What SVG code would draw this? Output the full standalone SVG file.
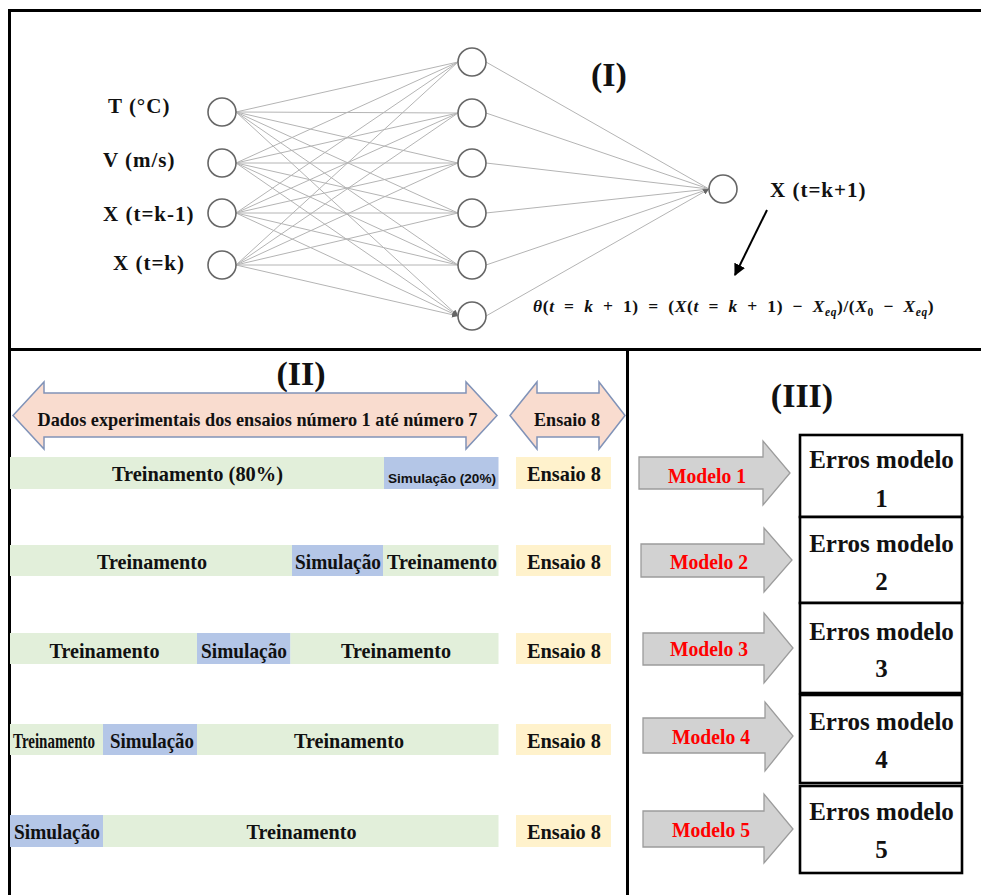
<svg xmlns="http://www.w3.org/2000/svg" width="981" height="895" viewBox="0 0 981 895">
  <style>
    .lbl { font-family: "Liberation Serif", "Times New Roman", serif; font-weight: bold; fill: #111; }
    .num { font-family: "Liberation Serif", "Times New Roman", serif; font-weight: bold; fill: #111; font-size: 34px; text-anchor: middle; }
    .node { fill: #fff; stroke: #666; stroke-width: 1.6; }
    .syn { stroke: #b4b4b4; stroke-width: 1; fill: none; marker-end: url(#tip); }
    .frame { stroke: #000; stroke-width: 3; fill: none; }
    .green { fill: #e2efda; }
    .blue { fill: #b4c6e7; }
    .beige { fill: #fff2cc; }
    .dbl { fill: #f9dccf; stroke: #8193b8; stroke-width: 1.5; }
    .marrow { fill: #d2d2d2; stroke: #9c9c9c; stroke-width: 1.3; }
    .mtxt { font-family: "Liberation Serif", "Times New Roman", serif; font-weight: bold; fill: #ff0000; font-size: 21px; text-anchor: middle; }
    .ebox { fill: #fff; stroke: #000; stroke-width: 2.6; }
    .etxt { font-family: "Liberation Serif", "Times New Roman", serif; font-weight: bold; fill: #111; font-size: 25px; text-anchor: middle; }
    .bar { font-family: "Liberation Serif", "Times New Roman", serif; font-weight: bold; fill: #111; font-size: 22px; text-anchor: middle; }
    .eq { font-family: "Liberation Serif", "Times New Roman", serif; font-weight: bold; fill: #111; font-size: 17.5px; letter-spacing: 0.6px; word-spacing: 4.5px; }
  </style>
  <defs>
    <marker id="tip" viewBox="0 0 6 6" refX="6" refY="3" markerWidth="6" markerHeight="6" markerUnits="userSpaceOnUse" orient="auto">
      <path d="M0,0 L6,3 L0,6 Z" fill="#666"/>
    </marker>
    <marker id="blk" viewBox="0 0 10 10" refX="9" refY="5" markerWidth="12" markerHeight="12" markerUnits="userSpaceOnUse" orient="auto">
      <path d="M0,0 L10,5 L0,10 Z" fill="#000"/>
    </marker>
  </defs>

  <rect width="981" height="895" fill="#fff"/>

  <!-- panel frame -->
  <g id="frame">
    <line class="frame" x1="8" y1="10.5" x2="981" y2="10.5"/>
    <line class="frame" x1="9.5" y1="9" x2="9.5" y2="895"/>
    <line class="frame" x1="8" y1="349.5" x2="981" y2="349.5"/>
    <line class="frame" x1="627.5" y1="349" x2="627.5" y2="895"/>
  </g>

  <!-- (I) network connectors -->
  <g id="connectors">
    <!-- input -> hidden -->
    <path class="syn" d="M236,112 L458,62 M236,112 L458,113 M236,112 L458,163 M236,112 L458,213 M236,112 L458,265 M236,112 L458,316"/>
    <path class="syn" d="M236,163 L458,62 M236,163 L458,113 M236,163 L458,163 M236,163 L458,213 M236,163 L458,265 M236,163 L458,316"/>
    <path class="syn" d="M236,213 L458,62 M236,213 L458,113 M236,213 L458,163 M236,213 L458,213 M236,213 L458,265 M236,213 L458,316"/>
    <path class="syn" d="M236,265 L458,62 M236,265 L458,113 M236,265 L458,163 M236,265 L458,213 M236,265 L458,265 M236,265 L458,316"/>
    <!-- hidden -> output -->
    <path class="syn" d="M486,62 L709,189 M486,113 L709,189 M486,163 L709,189 M486,213 L709,189 M486,265 L709,189 M486,316 L709,189"/>
    <!-- output -> normalised form -->
    <line x1="767" y1="210" x2="735" y2="275" stroke="#000" stroke-width="2" marker-end="url(#blk)"/>
  </g>

  <!-- (I) input layer -->
  <g id="in-T">
    <circle class="node" cx="222" cy="112" r="14"/>
    <text class="lbl" x="108" y="113" font-size="21" letter-spacing="1">T (°C)</text>
  </g>
  <g id="in-V">
    <circle class="node" cx="222" cy="163" r="14"/>
    <text class="lbl" x="103" y="167" font-size="21" letter-spacing="1">V (m/s)</text>
  </g>
  <g id="in-Xk1">
    <circle class="node" cx="222" cy="213" r="14"/>
    <text class="lbl" x="103" y="221" font-size="21" letter-spacing="1">X (t=k-1)</text>
  </g>
  <g id="in-Xk">
    <circle class="node" cx="222" cy="265" r="14"/>
    <text class="lbl" x="113" y="270" font-size="21" letter-spacing="1">X (t=k)</text>
  </g>

  <!-- (I) hidden layer -->
  <g id="h1"><circle class="node" cx="472" cy="62" r="14"/></g>
  <g id="h2"><circle class="node" cx="472" cy="113" r="14"/></g>
  <g id="h3"><circle class="node" cx="472" cy="163" r="14"/></g>
  <g id="h4"><circle class="node" cx="472" cy="213" r="14"/></g>
  <g id="h5"><circle class="node" cx="472" cy="265" r="14"/></g>
  <g id="h6"><circle class="node" cx="472" cy="316" r="14"/></g>

  <!-- (I) output layer -->
  <g id="out">
    <circle class="node" cx="723" cy="189" r="14"/>
    <text class="lbl" x="770" y="197" font-size="21" letter-spacing="1">X (t=k+1)</text>
  </g>

  <g id="title-I"><text class="num" x="609" y="86">(I)</text></g>

  <g id="formula">
    <text class="eq" x="533" y="312"><tspan font-style="italic">θ</tspan>(<tspan font-style="italic">t</tspan> = <tspan font-style="italic">k</tspan> + 1) = (<tspan font-style="italic">X</tspan>(<tspan font-style="italic">t</tspan> = <tspan font-style="italic">k</tspan> + 1) − <tspan font-style="italic">X</tspan><tspan font-style="italic" font-size="11.5" dy="4">eq</tspan><tspan dy="-4">)/(</tspan><tspan font-style="italic">X</tspan><tspan font-size="11.5" dy="4">0</tspan><tspan dy="-4"> − </tspan><tspan font-style="italic">X</tspan><tspan font-style="italic" font-size="11.5" dy="4">eq</tspan><tspan dy="-4">)</tspan></text>
  </g>

  <!-- (II) data split -->
  <g id="title-II"><text class="num" x="301" y="385">(II)</text></g>

  <g id="span-1-7">
    <path class="dbl" d="M13,415.5 L44,382 L44,393 L466,393 L466,382 L497,415.5 L466,449 L466,437 L44,437 L44,449 Z"/>
    <text class="lbl" x="257.5" y="426" font-size="19" text-anchor="middle" textLength="440" lengthAdjust="spacingAndGlyphs">Dados experimentais dos ensaios número 1 até número 7</text>
  </g>
  <g id="span-8">
    <path class="dbl" d="M510,415.5 L537,382 L537,393 L599,393 L599,382 L625,415.5 L599,449 L599,437 L537,437 L537,449 Z"/>
    <text class="lbl" x="567" y="426" font-size="19" text-anchor="middle" textLength="66" lengthAdjust="spacingAndGlyphs">Ensaio 8</text>
  </g>

  <g id="split-1">
    <rect class="green" x="10" y="457" width="374" height="32"/>
    <rect class="blue" x="384" y="457" width="114.5" height="32"/>
    <rect class="beige" x="516" y="457" width="95" height="32"/>
    <text class="bar" x="197.5" y="481" textLength="171" lengthAdjust="spacingAndGlyphs">Treinamento (80%)</text>
    <text x="442" y="483" font-family="'Liberation Sans', Arial, sans-serif" font-weight="bold" font-size="12.5" fill="#111" text-anchor="middle" textLength="108" lengthAdjust="spacingAndGlyphs">Simulação (20%)</text>
    <text class="bar" x="564" y="481" textLength="74" lengthAdjust="spacingAndGlyphs">Ensaio 8</text>
  </g>

  <g id="split-2">
    <rect class="green" x="10" y="545" width="282" height="31"/>
    <rect class="blue" x="292" y="545" width="91" height="31"/>
    <rect class="green" x="383" y="545" width="115.5" height="31"/>
    <rect class="beige" x="516" y="545" width="95" height="31"/>
    <text class="bar" x="152" y="569" textLength="110" lengthAdjust="spacingAndGlyphs">Treinamento</text>
    <text class="bar" x="338" y="569" textLength="86" lengthAdjust="spacingAndGlyphs">Simulação</text>
    <text class="bar" x="442" y="569" textLength="110" lengthAdjust="spacingAndGlyphs">Treinamento</text>
    <text class="bar" x="564" y="569" textLength="74" lengthAdjust="spacingAndGlyphs">Ensaio 8</text>
  </g>

  <g id="split-3">
    <rect class="green" x="10" y="633" width="187" height="31"/>
    <rect class="blue" x="197" y="633" width="93.5" height="31"/>
    <rect class="green" x="290.5" y="633" width="208" height="31"/>
    <rect class="beige" x="516" y="633" width="95" height="31"/>
    <text class="bar" x="104.5" y="658" textLength="110" lengthAdjust="spacingAndGlyphs">Treinamento</text>
    <text class="bar" x="244" y="658" textLength="86" lengthAdjust="spacingAndGlyphs">Simulação</text>
    <text class="bar" x="396" y="658" textLength="110" lengthAdjust="spacingAndGlyphs">Treinamento</text>
    <text class="bar" x="564" y="658" textLength="74" lengthAdjust="spacingAndGlyphs">Ensaio 8</text>
  </g>

  <g id="split-4">
    <rect class="green" x="10" y="724" width="93" height="31"/>
    <rect class="blue" x="103" y="724" width="94" height="31"/>
    <rect class="green" x="197" y="724" width="301.5" height="31"/>
    <rect class="beige" x="516" y="724" width="95" height="31"/>
    <text class="bar" x="54" y="748" font-size="15" textLength="82" lengthAdjust="spacingAndGlyphs">Treinamento</text>
    <text class="bar" x="152" y="748" font-size="19.5" textLength="84" lengthAdjust="spacingAndGlyphs">Simulação</text>
    <text class="bar" x="349" y="748" textLength="110" lengthAdjust="spacingAndGlyphs">Treinamento</text>
    <text class="bar" x="564" y="748" textLength="74" lengthAdjust="spacingAndGlyphs">Ensaio 8</text>
  </g>

  <g id="split-5">
    <rect class="blue" x="10" y="815" width="93" height="32"/>
    <rect class="green" x="103" y="815" width="395.5" height="32"/>
    <rect class="beige" x="516" y="815" width="95" height="32"/>
    <text class="bar" x="57" y="839" textLength="86" lengthAdjust="spacingAndGlyphs">Simulação</text>
    <text class="bar" x="301.5" y="839" textLength="110" lengthAdjust="spacingAndGlyphs">Treinamento</text>
    <text class="bar" x="564" y="839" textLength="74" lengthAdjust="spacingAndGlyphs">Ensaio 8</text>
  </g>

  <!-- (III) models and their errors -->
  <g id="title-III"><text class="num" x="802" y="407">(III)</text></g>

  <g id="modelo-1">
    <path class="marrow" d="M639,457 L763,457 L763,441 L790,473 L763,505 L763,489 L639,489 Z"/>
    <text class="mtxt" x="707" y="483" textLength="78" lengthAdjust="spacingAndGlyphs">Modelo 1</text>
  </g>
  <g id="modelo-2">
    <path class="marrow" d="M641,544 L764,544 L764,528 L792,560 L764,592 L764,577 L641,577 Z"/>
    <text class="mtxt" x="709" y="569" textLength="78" lengthAdjust="spacingAndGlyphs">Modelo 2</text>
  </g>
  <g id="modelo-3">
    <path class="marrow" d="M643,633 L764,633 L764,613 L793,648 L764,683 L764,665 L643,665 Z"/>
    <text class="mtxt" x="709" y="656" textLength="78" lengthAdjust="spacingAndGlyphs">Modelo 3</text>
  </g>
  <g id="modelo-4">
    <path class="marrow" d="M643,718 L765,718 L765,702 L793,736 L765,771 L765,753 L643,753 Z"/>
    <text class="mtxt" x="711" y="744" textLength="78" lengthAdjust="spacingAndGlyphs">Modelo 4</text>
  </g>
  <g id="modelo-5">
    <path class="marrow" d="M643,811 L764,811 L764,794 L793,829 L764,863 L764,847 L643,847 Z"/>
    <text class="mtxt" x="711" y="837" textLength="78" lengthAdjust="spacingAndGlyphs">Modelo 5</text>
  </g>

  <g id="erros-1">
    <rect class="ebox" x="800" y="435" width="162" height="82"/>
    <text class="etxt" x="881.5" y="468">Erros modelo</text>
    <text class="etxt" x="881.5" y="507">1</text>
  </g>
  <g id="erros-2">
    <rect class="ebox" x="800" y="517" width="162" height="86"/>
    <text class="etxt" x="881.5" y="552">Erros modelo</text>
    <text class="etxt" x="881.5" y="590">2</text>
  </g>
  <g id="erros-3">
    <rect class="ebox" x="800" y="603" width="162" height="90"/>
    <text class="etxt" x="881.5" y="640">Erros modelo</text>
    <text class="etxt" x="881.5" y="677">3</text>
  </g>
  <g id="erros-4">
    <rect class="ebox" x="800" y="695" width="162" height="88"/>
    <text class="etxt" x="881.5" y="730">Erros modelo</text>
    <text class="etxt" x="881.5" y="768">4</text>
  </g>
  <g id="erros-5">
    <rect class="ebox" x="800" y="786" width="162" height="87"/>
    <text class="etxt" x="881.5" y="820">Erros modelo</text>
    <text class="etxt" x="881.5" y="858">5</text>
  </g>
</svg>
